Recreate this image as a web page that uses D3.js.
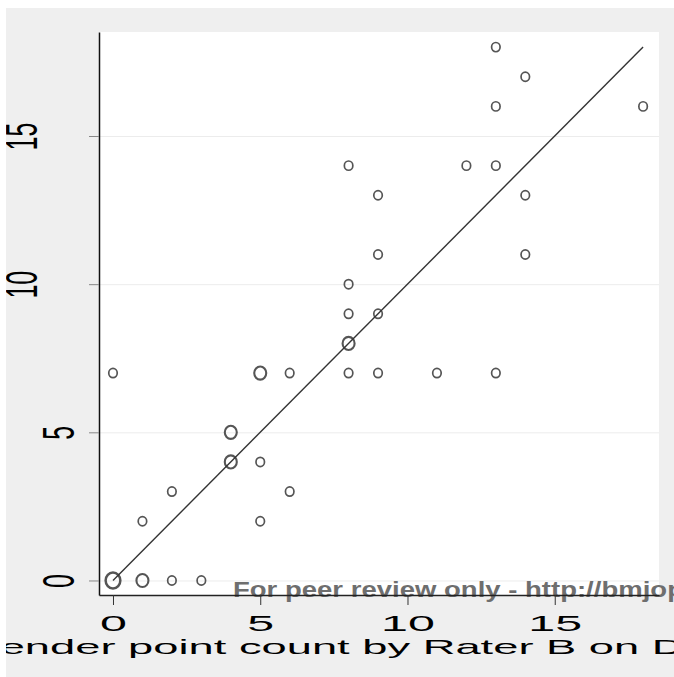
<!DOCTYPE html>
<html>
<head>
<meta charset="utf-8">
<script src="https://cdn.jsdelivr.net/npm/d3@7"></script>
<style>
  body { margin: 0; background: #fff; }
  svg { display: block; font-family: "Liberation Sans", Arial, sans-serif; }
</style>
</head>
<body>
<div id="chart"></div>
<script>
// Tender point counts, Rater B (x) vs Rater A (y); n = number of subjects at that spot
const raterB = [0, 1, 2, 3, 0, 1, 2, 4, 4, 5, 5, 5, 6, 6, 8, 8, 8, 8, 8, 9, 9, 9, 9, 11, 12, 13, 13, 13, 13, 14, 14, 14, 18];
const raterA = [0, 0, 0, 0, 7, 2, 3, 5, 4, 7, 4, 2, 7, 3, 14, 10, 9, 8, 7, 13, 11, 9, 7, 7, 14, 18, 16, 14, 7, 17, 13, 11, 16];
const counts = [3, 2, 1, 1, 1, 1, 1, 2, 2, 2, 1, 1, 1, 1, 1, 1, 1, 2, 1, 1, 1, 1, 1, 1, 1, 1, 1, 1, 1, 1, 1, 1, 1];

// line of equality
const lineX = [0, 18];
const lineY = [0, 18];

const xTicks = [0, 5, 10, 15];
const yTicks = [0, 5, 10, 15];
const xTitle = "Tender point count by Rater B on Day 1";
const watermark = "For peer review only - http://bmjopen.bmj.com/site/about/guidelines.xhtml";

const W = 674, H = 677;
const panel = { x: 6, y: 8 };
const plot = { left: 99, right: 659, top: 32, bottom: 595 };

const svg = d3.select("#chart")
  .append("svg")
  .attr("width", W)
  .attr("height", H);

// everything is clipped to the grey panel, like the cropped original
svg.append("clipPath")
  .attr("id", "panel-clip")
  .append("rect")
  .attr("x", panel.x).attr("y", panel.y)
  .attr("width", W - panel.x).attr("height", H - panel.y);

const root = svg.append("g").attr("clip-path", "url(#panel-clip)");

root.append("rect")
  .attr("x", panel.x).attr("y", panel.y)
  .attr("width", W - panel.x).attr("height", H - panel.y)
  .attr("fill", "#efefef");

// plot region
root.append("rect")
  .attr("x", plot.left).attr("y", plot.top)
  .attr("width", plot.right - plot.left)
  .attr("height", plot.bottom - plot.top)
  .attr("fill", "#fff");

const x = d3.scaleLinear().domain([-0.475, 18.54]).range([plot.left, plot.right]);
const y = d3.scaleLinear().domain([-0.49, 18.51]).range([plot.bottom, plot.top]);

// grid lines
root.append("g")
  .attr("transform", `translate(${plot.left},0)`)
  .call(d3.axisLeft(y).tickValues(yTicks).tickSize(-(plot.right - plot.left)).tickFormat(""))
  .call(g => g.select(".domain").remove())
  .selectAll("line")
  .attr("stroke", "#ececec")
  .attr("stroke-width", 1);

// markers
const r = d3.scaleSqrt().domain([0, 3]).range([0, 8]);
root.append("g")
  .selectAll("ellipse")
  .data(raterB.map((d, i) => ({ b: d, a: raterA[i], n: counts[i] })))
  .join("ellipse")
  .attr("cx", d => x(d.b))
  .attr("cy", d => y(d.a))
  .attr("rx", d => r(d.n) * 0.92)
  .attr("ry", d => r(d.n))
  .attr("fill", "none")
  .attr("stroke", "#555")
  .attr("stroke-width", d => 1.3 + 0.4 * d.n);

// line of equality
const line = d3.line()
  .x(d => x(d[0]))
  .y(d => y(d[1]));

root.append("path")
  .datum(lineX.map((d, i) => [d, lineY[i]]))
  .attr("fill", "none")
  .attr("stroke", "#333")
  .attr("stroke-width", 1.4)
  .attr("d", line);

// watermark (sits under the axis line)
root.append("text")
  .attr("transform", "translate(233,597) scale(1.28,1)")
  .attr("font-size", 21.5)
  .attr("font-weight", "bold")
  .attr("fill", "#6e6e6e")
  .text(watermark);

// x axis
const xAxis = root.append("g")
  .attr("transform", `translate(0,${plot.bottom})`)
  .call(d3.axisBottom(x).tickValues(xTicks).tickSize(10).tickSizeOuter(0));

xAxis.select(".domain").attr("stroke", "#222").attr("stroke-width", 1.3);
xAxis.selectAll(".tick line").attr("stroke", "#333");
xAxis.selectAll(".tick text")
  .attr("y", 36)
  .attr("dy", 0)
  .attr("font-size", 22)
  .attr("fill", "#000")
  .attr("transform", "scale(2.2,1)");

// y axis
const yAxis = root.append("g")
  .attr("transform", `translate(${plot.left},0)`)
  .call(d3.axisLeft(y).tickValues(yTicks).tickSize(10).tickSizeOuter(0));

yAxis.select(".domain").attr("stroke", "#111").attr("stroke-width", 1.5);
yAxis.selectAll(".tick line").attr("stroke", "#888");
yAxis.selectAll(".tick text")
  .attr("x", 0)
  .attr("y", 0)
  .attr("dy", "0.36em")
  .attr("font-size", 25)
  .attr("fill", "#000")
  .attr("text-anchor", "middle")
  .attr("transform", d => {
    const cx = 96 - 37.5 * String(d).length - plot.left;
    return `translate(${cx},0) scale(1.75,1) rotate(-90)`;
  });

// x axis title
root.append("text")
  .attr("transform", "translate(-23,654) scale(2.21,1)")
  .attr("font-size", 20.5)
  .attr("fill", "#000")
  .text(xTitle);
</script>
</body>
</html>
